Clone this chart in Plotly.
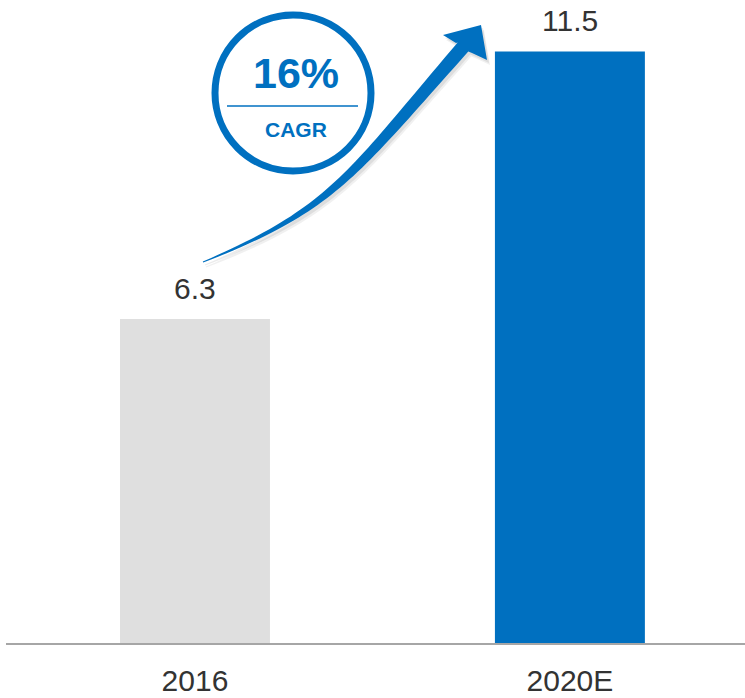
import numpy as np
import plotly.graph_objects as go

# data
years = ["2016", "2020E"]
market_size = [6.3, 11.5]
bar_colors = ["#DFDFDF", "#0070C0"]
cagr_text = "16%"
cagr_label = "CAGR"

BLUE = "#0070C0"
TEXT = "#333333"
FONT = "Liberation Sans, Arial, sans-serif"

W, H = 745, 698
L, R, T, B = 6, 745, 0, 643  # plot area in pixels


def px(x, y):
    """pixel position -> paper coordinates"""
    return (x - L) / (R - L), (B - y) / (B - T)


def arrow_path(ctrl, head, w0=0.5, w1=7.0, dx=0, dy=0):
    # tapered cubic bezier shaft + arrow head, as an svg path in paper coords
    t = np.linspace(0, 1, 50)[:, None]
    P0, P1, P2, P3 = (np.array(p, float) for p in ctrl)
    pts = (1 - t) ** 3 * P0 + 3 * (1 - t) ** 2 * t * P1 + 3 * (1 - t) * t ** 2 * P2 + t ** 3 * P3
    der = 3 * (1 - t) ** 2 * (P1 - P0) + 6 * (1 - t) * t * (P2 - P1) + 3 * t ** 2 * (P3 - P2)
    der /= np.linalg.norm(der, axis=1)[:, None]
    nrm = np.hstack([-der[:, 1:2], der[:, 0:1]])
    half = w0 + (w1 - w0) * t ** 0.9
    upper = pts - nrm * half
    lower = pts + nrm * half
    poly = list(upper) + list(head) + list(lower[::-1])
    out = []
    for i, (x, y) in enumerate(poly):
        xp, yp = px(x + dx, y + dy)
        out.append(("M" if i == 0 else "L") + f"{xp:.5f},{yp:.5f}")
    return " ".join(out) + " Z"


fig = go.Figure()
fig.add_trace(
    go.Bar(
        x=years,
        y=market_size,
        marker_color=bar_colors,
        marker_line_width=0,
        width=0.4,
        hoverinfo="skip",
    )
)

# value labels above the bars (x given as category index)
for i, v in enumerate(market_size):
    fig.add_annotation(
        x=i, y=v, text=f"{v:.1f}", showarrow=False,
        xanchor="center", yanchor="bottom", yshift=12,
        font=dict(size=30, color=TEXT, family=FONT),
    )

# growth arrow (with soft shadow)
ctrl = [(203, 262), (333, 209), (351, 175), (463, 47)]
head = [(456, 43), (443, 35), (481, 25), (487, 60), (472, 53)]
for sx, sy, a in [(3, 5, 0.06), (2, 3, 0.08)]:
    fig.add_shape(type="path", xref="paper", yref="paper",
                  path=arrow_path(ctrl, head, dx=sx, dy=sy),
                  fillcolor=f"rgba(0,0,0,{a})", line_width=0, layer="above")
fig.add_shape(type="path", xref="paper", yref="paper",
              path=arrow_path(ctrl, head),
              fillcolor=BLUE, line_width=0, layer="above")

# CAGR circle
cx0, cy0 = px(215, 15)
cx1, cy1 = px(371, 171)
fig.add_shape(type="circle", xref="paper", yref="paper",
              x0=cx0, y0=cy1, x1=cx1, y1=cy0,
              line=dict(color=BLUE, width=7), fillcolor="white", layer="above")
lx0, ly = px(227, 106)
lx1, _ = px(358, 106)
fig.add_shape(type="line", xref="paper", yref="paper",
              x0=lx0, x1=lx1, y0=ly, y1=ly,
              line=dict(color=BLUE, width=1.5), layer="above")

ax, ay = px(296, 73)
fig.add_annotation(xref="paper", yref="paper", x=ax, y=ay, text=f"<b>{cagr_text}</b>",
                   xanchor="center", yanchor="middle",
                   showarrow=False, font=dict(size=43, color=BLUE, family=FONT))
ax, ay = px(296, 129)
fig.add_annotation(xref="paper", yref="paper", x=ax, y=ay, text=f"<b>{cagr_label}</b>",
                   xanchor="center", yanchor="middle",
                   showarrow=False, font=dict(size=21, color=BLUE, family=FONT))

fig.update_layout(
    width=W,
    height=H,
    template="plotly_white",
    plot_bgcolor="white",
    paper_bgcolor="white",
    margin=dict(l=L, r=W - R, t=T, b=H - B),
    showlegend=False,
    xaxis=dict(
        type="category",
        range=[-0.504, 1.467],
        showline=True, linecolor="#A6A6A6", linewidth=2,
        showgrid=False, ticks="",
        ticklabelstandoff=10,
        tickfont=dict(size=30, color=TEXT, family=FONT),
    ),
    yaxis=dict(range=[0, 12.5], visible=False, showgrid=False, zeroline=False),
)

fig.write_html("out.html", config={"displayModeBar": False},
               post_script="document.body.style.margin='0';")
